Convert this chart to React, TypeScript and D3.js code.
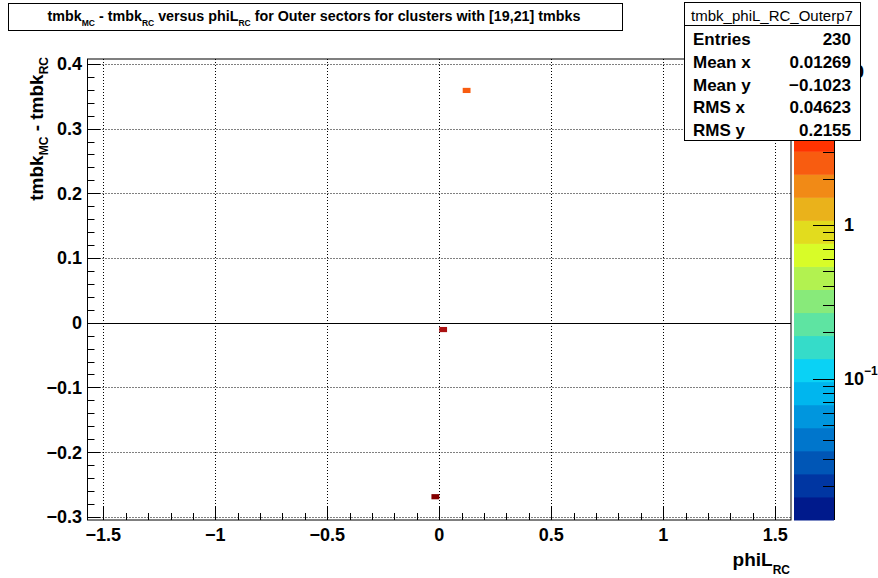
import React from "react";
import * as d3 from "d3";

// ---- data ----
const PHI_L = [0.1222, 0.01745, -0.01745];
const D_TMBK = [0.359, -0.0106, -0.269];
const COUNTS = [3, 8, 12];

const X_TICKS = [-1.5, -1, -0.5, 0, 0.5, 1, 1.5];
const Y_TICKS = [-0.3, -0.2, -0.1, 0, 0.1, 0.2, 0.3, 0.4];
const Z_MAJOR = [0.1, 1, 10];
const STATS_LABELS = ["Entries", "Mean x", "Mean y", "RMS x", "RMS y"];
const STATS_VALUES = ["230", "0.01269", "\u22120.1023", "0.04623", "0.2155"];
const PALETTE = [
  "#001a8c", "#0036a2", "#0056b6", "#0076cc", "#0096de",
  "#00b6ee", "#0ad2f5", "#35dcc9", "#5ee4a2", "#88ea7a",
  "#b2f250", "#d8fc28", "#e2dc1e", "#eab21b", "#f18a16",
  "#f85c10", "#ff3300", "#d41c00", "#aa1010", "#850000",
];

const W = 878;
const H = 578;
const FONT = "'Liberation Sans', Arial, Helvetica, sans-serif";

const X_DOMAIN = [-Math.PI / 2, Math.PI / 2];
const Y_DOMAIN = [-0.305, 0.4076];
const Z_DOMAIN = [0.012, 12];
const X_BIN = Math.PI / 90;
const Y_BIN = 0.008;

const fmt = (v: number) => (v < 0 ? "\u2212" : "") + String(Math.abs(v));

export default function App() {
  const left = 87.5, right = 791, top = 59, bottom = 520;
  const x = d3.scaleLinear().domain(X_DOMAIN).range([left, right]);
  const y = d3.scaleLinear().domain(Y_DOMAIN).range([bottom, top]);
  const z = d3.scaleLog().domain(Z_DOMAIN).range([bottom, top]);

  const nLevels = PALETTE.length;
  const lz0 = Math.log10(Z_DOMAIN[0]);
  const lz1 = Math.log10(Z_DOMAIN[1]);
  const colorOf = (c: number) => {
    let k = Math.floor(((Math.log10(c) - lz0) / (lz1 - lz0)) * nLevels);
    k = Math.max(0, Math.min(nLevels - 1, k));
    return PALETTE[k];
  };

  const xMinor = d3.range(-15, 16).map((i) => i / 10).filter((v) => !X_TICKS.includes(v));
  const yMinor = d3.range(-15, 21).map((i) => i / 50).filter((v) => v >= Y_DOMAIN[0] && v <= Y_DOMAIN[1]);

  const zMinor: number[] = [];
  [0.01, 0.1, 1, 10].forEach((d) => {
    for (let m = 2; m <= 9; m++) {
      const v = d * m;
      if (v >= Z_DOMAIN[0] && v <= Z_DOMAIN[1]) zMinor.push(v);
    }
  });

  const cbL = 794, cbR = 834;
  const levels = d3.range(nLevels + 1).map((k) => Math.pow(10, lz0 + ((lz1 - lz0) * k) / nLevels));

  return (
    <svg
      width={W}
      height={H}
      style={{ position: "absolute", left: 0, top: 0, background: "#fff" }}
      fontFamily={FONT}
    >
      <rect x={0} y={0} width={W} height={H} fill="#fff" />

      {/* grid */}
      <g stroke="#000" strokeWidth={1} strokeDasharray="1,2">
        {X_TICKS.map((t) => (
          <line key={"gx" + t} x1={Math.round(x(t)) + 0.5} x2={Math.round(x(t)) + 0.5} y1={top} y2={bottom} />
        ))}
        {Y_TICKS.map((t) => (
          <line key={"gy" + t} x1={left} x2={right} y1={Math.round(y(t)) + 0.5} y2={Math.round(y(t)) + 0.5} />
        ))}
      </g>
      {/* zero line */}
      <line x1={left} x2={right} y1={Math.round(y(0)) + 0.5} y2={Math.round(y(0)) + 0.5} stroke="#000" strokeWidth={1} />

      {/* cells */}
      {PHI_L.map((p, i) => (
        <rect
          key={"c" + i}
          x={x(p - X_BIN / 2)}
          width={x(p + X_BIN / 2) - x(p - X_BIN / 2)}
          y={y(D_TMBK[i] + Y_BIN / 2)}
          height={y(D_TMBK[i] - Y_BIN / 2) - y(D_TMBK[i] + Y_BIN / 2)}
          fill={colorOf(COUNTS[i])}
        />
      ))}

      {/* frame */}
      <rect x={left} y={top} width={right - left} height={bottom - top} fill="none" stroke="#000" strokeWidth={1} />

      {/* ticks */}
      <g stroke="#000" strokeWidth={1}>
        {X_TICKS.map((t) => (
          <line key={"xt" + t} x1={Math.round(x(t)) + 0.5} x2={Math.round(x(t)) + 0.5} y1={bottom} y2={bottom - 14} />
        ))}
        {xMinor.map((t) => (
          <line key={"xm" + t} x1={Math.round(x(t)) + 0.5} x2={Math.round(x(t)) + 0.5} y1={bottom} y2={bottom - 7} />
        ))}
        {Y_TICKS.map((t) => (
          <line key={"yt" + t} x1={left} x2={left + 13} y1={Math.round(y(t)) + 0.5} y2={Math.round(y(t)) + 0.5} />
        ))}
        {yMinor.map((t) => (
          <line key={"ym" + t} x1={left} x2={left + 7} y1={Math.round(y(t)) + 0.5} y2={Math.round(y(t)) + 0.5} />
        ))}
      </g>

      {/* tick labels */}
      <g fontSize={18} fontWeight="bold" fill="#000">
        {X_TICKS.map((t) => (
          <text key={"xl" + t} x={x(t)} y={541} textAnchor="middle">
            {fmt(t)}
          </text>
        ))}
        {Y_TICKS.map((t) => (
          <text key={"yl" + t} x={82} y={y(t) + 6.5} textAnchor="end">
            {fmt(t)}
          </text>
        ))}
      </g>

      {/* axis titles */}
      <text x={790} y={566} textAnchor="end" fontSize={19} fontWeight="bold">
        phiL
        <tspan fontSize={12} dy={8}>RC</tspan>
      </text>
      <text transform="translate(43,57) rotate(-90)" textAnchor="end" fontSize={19} fontWeight="bold">
        tmbk
        <tspan fontSize={12} dy={5}>MC</tspan>
        <tspan dy={-5}> - tmbk</tspan>
        <tspan fontSize={12} dy={5}>RC</tspan>
      </text>

      {/* color bar */}
      {PALETTE.map((c, k) => (
        <rect
          key={"cb" + k}
          x={cbL}
          width={cbR - cbL}
          y={z(levels[k + 1])}
          height={z(levels[k]) - z(levels[k + 1]) + 0.5}
          fill={c}
        />
      ))}
      <g stroke="#000" strokeWidth={1}>
        <line x1={cbR + 0.5} x2={cbR + 0.5} y1={top} y2={bottom} />
        {Z_MAJOR.map((v) => (
          <line key={"zt" + v} x1={cbR} x2={cbR - 21} y1={Math.round(z(v)) + 0.5} y2={Math.round(z(v)) + 0.5} />
        ))}
        {zMinor.map((v) => (
          <line key={"zm" + v} x1={cbR} x2={cbR - 11} y1={Math.round(z(v)) + 0.5} y2={Math.round(z(v)) + 0.5} />
        ))}
      </g>
      <g fontSize={18} fontWeight="bold">
        <text x={844} y={z(1) + 6.5}>1</text>
        <text x={844} y={z(0.1) + 6.5}>
          10
          <tspan fontSize={12} dy={-10}>{"\u22121"}</tspan>
        </text>
        <text x={844} y={z(10) + 6.5}>10</text>
      </g>

      {/* stats box */}
      <rect x={684.5} y={2.5} width={176} height={138} fill="#fff" stroke="#000" strokeWidth={1} />
      <line x1={684.5} x2={860.5} y1={25.5} y2={25.5} stroke="#000" strokeWidth={1} />
      <text x={772} y={20.5} textAnchor="middle" fontSize={15}>
        tmbk_phiL_RC_Outerp7
      </text>
      <g fontSize={17} fontWeight="bold">
        {STATS_LABELS.map((l, i) => (
          <text key={"sl" + i} x={693} y={45 + i * 22.8}>
            {l}
          </text>
        ))}
        {STATS_VALUES.map((v, i) => (
          <text key={"sv" + i} x={851} y={45 + i * 22.8} textAnchor="end">
            {v}
          </text>
        ))}
      </g>

      {/* title box */}
      <rect x={8.5} y={3.5} width={614} height={27} fill="#fff" stroke="#000" strokeWidth={1} />
      <text x={314} y={21} textAnchor="middle" fontSize={14.3} fontWeight="bold">
        tmbk
        <tspan fontSize={8.5} dy={5}>MC</tspan>
        <tspan dy={-5}> - tmbk</tspan>
        <tspan fontSize={8.5} dy={5}>RC</tspan>
        <tspan dy={-5}> versus phiL</tspan>
        <tspan fontSize={8.5} dy={5}>RC</tspan>
        <tspan dy={-5}> for Outer sectors for clusters with [19,21] tmbks</tspan>
      </text>
    </svg>
  );
}
